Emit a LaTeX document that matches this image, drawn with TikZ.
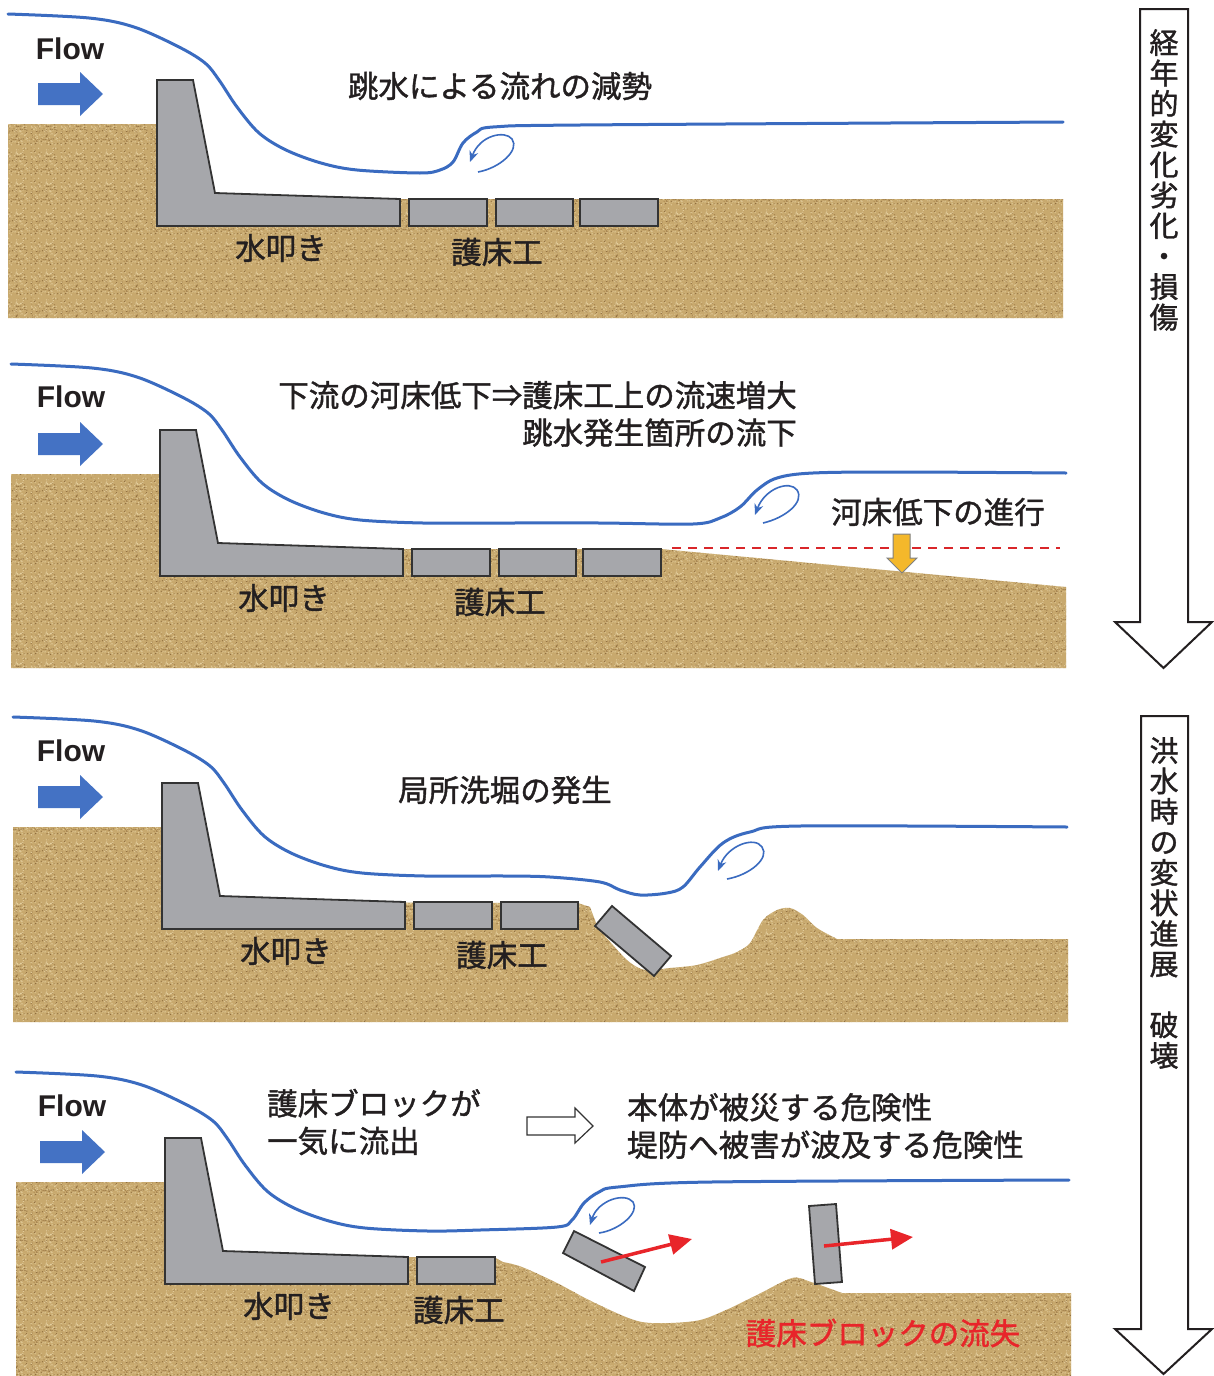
\documentclass[tikz,border=0pt]{standalone}
\usepackage{fontspec}
\setmainfont{Liberation Sans}
\newfontfamily\jpfont[FakeBold=1.3]{Noto Sans CJK JP}
\usetikzlibrary{arrows.meta,patterns}

\definecolor{waterblue}{HTML}{3A6BC0}
\definecolor{flowblue}{HTML}{4472C4}
\definecolor{blockgray}{HTML}{A6A7AB}
\definecolor{edgegray}{HTML}{333333}
\definecolor{inkblack}{HTML}{231F20}
\definecolor{lossred}{HTML}{E8252A}
\definecolor{dashred}{HTML}{D9262A}
\definecolor{dropyellow}{HTML}{F4B82B}
\definecolor{sandbase}{HTML}{C8A96E}
\definecolor{sandlight}{HTML}{E4CF9F}
\definecolor{sandpale}{HTML}{D9C08C}
\definecolor{sanddark}{HTML}{A98650}
\definecolor{sandbrown}{HTML}{8E6C3E}

% grainy sand specks, laid over a plain sand fill
\pgfdeclarepatterninherentlycolored{sandgrain}
 {\pgfpointorigin}{\pgfpoint{30pt}{30pt}}{\pgfpoint{30pt}{30pt}}
 {%
  \pgfmathsetseed{11}%
  \foreach \k in {1,...,220}{%
    \pgfmathsetmacro{\gx}{1+rnd*28}%
    \pgfmathsetmacro{\gy}{1+rnd*28}%
    \pgfmathtruncatemacro{\gc}{mod(\k,5)}%
    \ifcase\gc\relax \pgfsetfillcolor{sandlight}\or \pgfsetfillcolor{sanddark}\or \pgfsetfillcolor{sandpale}\or \pgfsetfillcolor{sandbrown}\or \pgfsetfillcolor{sandlight}\fi
    \pgfpathcircle{\pgfpoint{\gx pt}{\gy pt}}{0.65pt}%
    \pgfusepath{fill}%
  }%
 }

\tikzset{
  sand/.style={fill=sandbase, postaction={pattern=sandgrain}},
  water/.style={draw=waterblue, line width=3pt, line cap=round, line join=round},
  eddy/.style={draw=waterblue, line width=1.6pt, -{Stealth[length=11pt,width=9pt]}},
  concrete/.style={fill=blockgray, draw=edgegray, line width=1.8pt},
  flowtxt/.style={font=\fontsize{30}{36}\selectfont\bfseries, text=inkblack, inner sep=0pt},
  flowshape/.style={fill=flowblue},
  jplabel/.style={font=\jpfont\fontsize{30.5}{37.5}\selectfont, text=inkblack, inner sep=0pt},
  redlabel/.style={jplabel, text=lossred},
  vtext/.style={font=\jpfont\fontsize{29}{30.5}\selectfont, text=inkblack, inner sep=0pt, align=center},
  bigarrow/.style={fill=white, draw=inkblack, line width=2pt},
  washout/.style={draw=lossred, line width=3.5pt, -{Triangle[length=22pt,width=20pt]}},
}

\begin{document}
\begin{tikzpicture}[x=1pt,y=-1pt]
\fill[white] (0,0) rectangle (1213,1376);
\useasboundingbox (0,0) rectangle (1213,1376);

% ---------- stage 1: hydraulic jump on the apron ----------
\begin{scope}
  \path[sand] (8,124) -- (157,124) -- (157,199) -- (1063,199) -- (1063,318) -- (8,318) -- cycle;
  \path[concrete] (157,80) -- (193,80) -- (215,193) -- (400,199) -- (400,226) -- (157,226) -- cycle;
  \path[concrete] (409,199) rectangle (487,226);
  \path[concrete] (496,199) rectangle (573,226);
  \path[concrete] (580,199) rectangle (658,226);
  \draw[water] plot[smooth, tension=0.55] coordinates {(8,14) (89,18) (134,27) (179,47) (205,63) (219,80) (237,107) (259,133) (286,150) (321,163) (357,170) (420,173) (440,170) (453,162) (463,143) (477,132) (493,127) (580,125) (1063,122)};
  \draw[eddy] (478,172) .. controls (500,168) and (520,150) .. (512,139) .. controls (505,130) and (480,135) .. (470,162);
  \fill[flowshape] (38,83) -- (80,83) -- (80,72) -- (103,94) -- (80,116) -- (80,105) -- (38,105) -- cycle;
  \node[flowtxt] (flow1) at (70,49) {Flow};
  \node[jplabel] (jump1) at (500,86) {跳水による流れの減勢};
  \node[jplabel] (apron1) at (281,248) {水叩き};
  \node[jplabel] (bed1) at (497,252) {護床工};
\end{scope}

% ---------- stage 2: downstream bed degradation ----------
\begin{scope}[shift={(3,350)}]
  \path[sand] (8,124) -- (157,124) -- (157,199) -- (658,199) -- (1063,237) -- (1063,318) -- (8,318) -- cycle;
  \path[concrete] (157,80) -- (193,80) -- (215,193) -- (400,199) -- (400,226) -- (157,226) -- cycle;
  \path[concrete] (409,199) rectangle (487,226);
  \path[concrete] (496,199) rectangle (573,226);
  \path[concrete] (580,199) rectangle (658,226);
  \draw[dashred, line width=2.2pt, dash pattern=on 9pt off 7pt] (669,198) -- (1057,198);
  \path[fill=dropyellow, draw=gray, line width=1pt] (890,184) -- (907,184) -- (907,208) -- (914,208) -- (899,223) -- (884,208) -- (890,208) -- cycle;
  \draw[water] plot[smooth, tension=0.55] coordinates {(8,14) (89,18) (134,27) (179,47) (205,63) (219,80) (237,107) (259,133) (286,150) (321,163) (357,170) (420,173) (500,173) (597,173) (690,174) (717,168) (737,157) (754,140) (774,128) (810,123) (897,122) (1063,123)};
  \draw[eddy] (760,173) .. controls (782,168) and (802,152) .. (794,140) .. controls (787,130) and (762,138) .. (752,165);
  \fill[flowshape] (35,83) -- (77,83) -- (77,72) -- (100,94) -- (77,116) -- (77,105) -- (35,105) -- cycle;
  \node[flowtxt] (flow2) at (68,47) {Flow};
  \node[jplabel, align=right, anchor=east] (drop2) at (794,64) {下流の河床低下⇒護床工上の流速増大\\跳水発生箇所の流下};
  \node[jplabel] (lower2) at (935,162) {河床低下の進行};
  \node[jplabel] (apron2) at (281,248) {水叩き};
  \node[jplabel] (bed2) at (497,252) {護床工};
\end{scope}

% ---------- stage 3: local scour ----------
\begin{scope}[shift={(5,703)}]
  \path[sand] (8,124) -- (157,124) -- (157,199) -- (573,200) -- plot[smooth, tension=0.5] coordinates {(585,204) (590,217) (595,227) (622,257) (640,267) (665,265) (692,262) (718,254) (732,249) (745,240) (758,217) (772,207) (785,205) (798,212) (812,225) (832,236)} -- (1063,236) -- (1063,319) -- (8,319) -- cycle;
  \path[concrete] (157,80) -- (193,80) -- (215,193) -- (400,199) -- (400,226) -- (157,226) -- cycle;
  \path[concrete] (409,199) rectangle (487,226);
  \path[concrete] (496,199) rectangle (573,226);
  \path[concrete] (607,203) -- (590,223) -- (649,273) -- (666,253) -- cycle;
  \draw[water] plot[smooth, tension=0.55] coordinates {(8,14) (89,18) (134,27) (179,47) (205,63) (219,80) (237,107) (259,133) (286,150) (321,163) (357,170) (420,173) (500,173) (545,174) (595,179) (615,187) (635,192) (662,190) (678,184) (695,164) (718,140) (745,129) (795,123) (1062,124)};
  \draw[eddy] (722,176) .. controls (745,172) and (765,155) .. (757,144) .. controls (750,133) and (723,142) .. (713,168);
  \fill[flowshape] (33,83) -- (75,83) -- (75,72) -- (98,94) -- (75,116) -- (75,105) -- (33,105) -- cycle;
  \node[flowtxt] (flow3) at (66,48) {Flow};
  \node[jplabel] (scour3) at (500,87) {局所洗堀の発生};
  \node[jplabel] (apron3) at (281,248) {水叩き};
  \node[jplabel] (bed3) at (497,252) {護床工};
\end{scope}

% ---------- stage 4: blocks washed away ----------
\begin{scope}[shift={(8,1058)}]
  \path[sand] (8,124) -- (157,124) -- (157,199) -- (486,199) -- plot[smooth, tension=0.5] coordinates {(495,204) (514,209) (549,225) (587,245) (634,264) (687,263) (718,252) (749,237) (784,220) (803,224) (834,235)} -- (1063,235) -- (1063,320) -- (8,320) -- cycle;
  \path[concrete] (157,80) -- (193,80) -- (215,193) -- (400,199) -- (400,226) -- (157,226) -- cycle;
  \path[concrete] (409,199) rectangle (487,226);
  \path[concrete] (566,173) -- (555,195) -- (626,233) -- (637,209) -- cycle;
  \path[concrete] (801,148) -- (828,146) -- (834,224) -- (807,226) -- cycle;
  \coordinate (push1) at (593,204);
  \coordinate (away1) at (684,181);
  \coordinate (push2) at (816,188);
  \coordinate (away2) at (905,179);
  \draw[washout] (push1) -- (away1);
  \draw[washout] (push2) -- (away2);
  \draw[water] plot[smooth, tension=0.55] coordinates {(8,14) (89,18) (134,27) (179,47) (205,63) (219,80) (237,107) (259,133) (286,150) (321,163) (357,170) (420,173) (472,172) (549,169) (564,162) (576,145) (591,134) (610,129) (703,124) (1061,122)};
  \draw[eddy] (591,175) .. controls (612,172) and (632,154) .. (625,144) .. controls (617,134) and (590,142) .. (582,167);
  \fill[flowshape] (32,83) -- (74,83) -- (74,72) -- (97,94) -- (74,116) -- (74,105) -- (32,105) -- cycle;
  \node[flowtxt] (flow4) at (64,48) {Flow};
  \node[jplabel, align=left, anchor=west] (outflow4) at (259,64) {護床ブロックが\\一気に流出};
  \path[fill=white, draw=edgegray, line width=1.2pt] (519,59) -- (567,59) -- (567,50) -- (585,68) -- (567,85) -- (567,77) -- (519,77) -- cycle;
  \node[jplabel, align=left, anchor=west] (risk4) at (619,68) {本体が被災する危険性\\堤防へ被害が波及する危険性};
  \node[jplabel] (apron4) at (281,248) {水叩き};
  \node[jplabel] (bed4) at (451,252) {護床工};
  \node[redlabel] (loss4) at (875,275) {護床ブロックの流失};
\end{scope}

% ---------- time-progression arrows ----------
\path[bigarrow] (1140,9) -- (1188,9) -- (1188,622) -- (1212,622) -- (1163.5,668) -- (1115,622) -- (1140,622) -- cycle;
\node[vtext, anchor=north] (aging) at (1164,29) {経\\年\\的\\変\\化\\劣\\化\\・\\損\\傷};
\path[bigarrow] (1141,716) -- (1188,716) -- (1188,1329) -- (1212,1329) -- (1163.5,1374) -- (1115,1329) -- (1141,1329) -- cycle;
\node[vtext, anchor=north] (flood) at (1164,737) {洪\\水\\時\\の\\変\\状\\進\\展\\\mbox{}\\破\\壊};
\end{tikzpicture}
\end{document}
